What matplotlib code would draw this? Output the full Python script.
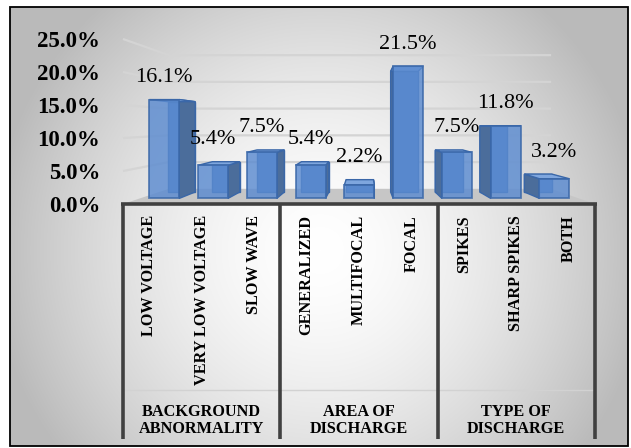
import numpy as np
import matplotlib
matplotlib.use('Agg')
import matplotlib.pyplot as plt
from matplotlib.patches import Polygon, Rectangle

# ---------------- data ----------------
categories = ['LOW VOLTAGE', 'VERY LOW VOLTAGE', 'SLOW WAVE',
              'GENERALIZED', 'MULTIFOCAL', 'FOCAL',
              'SPIKES', 'SHARP SPIKES', 'BOTH']
values = [16.1, 5.4, 7.5, 5.4, 2.2, 21.5, 7.5, 11.8, 3.2]
groups = ['BACKGROUND\nABNORMALITY', 'AREA OF\nDISCHARGE', 'TYPE OF\nDISCHARGE']
group_sizes = [3, 3, 3]
yticks = [0, 5, 10, 15, 20, 25]
ytick_labels = ['0.0%', '5.0%', '10.0%', '15.0%', '20.0%', '25.0%']
value_labels = ['16.1%', '5.4%', '7.5%', '5.4%', '2.2%', '21.5%', '7.5%', '11.8%', '3.2%']

SERIF = 'Liberation Serif'
W, H = 631, 448
fig = plt.figure(figsize=(W / 100, H / 100), dpi=100)

# ---------------- background (gradient chart area + frame) ----------------
bg = fig.add_axes([0, 0, 1, 1])
bg.set_xlim(0, W)
bg.set_ylim(H, 0)
bg.axis('off')
fx0, fx1, fy0, fy1 = 10, 628, 7, 446
yy, xx = np.mgrid[fy0:fy1, fx0:fx1]
r = np.sqrt(((xx - 320) / 330.0) ** 2 + ((yy - 250) / 330.0) ** 2)
shade = 1 - 0.27 * np.clip(r, 0, 1.0) ** 1.6
img = np.dstack([shade, shade, shade])
bg.imshow(img, extent=(fx0, fx1, fy1, fy0), zorder=0, interpolation='bilinear')
bg.add_patch(Rectangle((fx0, fy0), fx1 - fx0, fy1 - fy0, fill=False,
                       ec='black', lw=1.3, zorder=2))

# ---------------- main axes (front plane) ----------------
px_left, px_right = 123, 595
px_y0, px_y25 = 204, 39
ax = fig.add_axes([px_left / W, 1 - px_y0 / H, (px_right - px_left) / W,
                   (px_y0 - px_y25) / H])
n = len(categories)
ax.set_xlim(-0.5, n - 0.5)
ax.set_ylim(0, 25)
ax.patch.set_visible(False)
for s in ax.spines.values():
    s.set_visible(False)
ax.set_xticks([])
ax.set_yticks(yticks)
ax.set_yticklabels(ytick_labels, fontsize=16.5, fontweight='bold', family=SERIF)
ax.tick_params(axis='y', length=0, pad=16.4)

ax_h_px = px_y0 - px_y25

# perspective (vanishing point in data coordinates)
vpx, vpy = 4.096, 12.12
F_BACKWALL = 0.81
F_FRONT, F_BACK = 0.93, 0.85
HALF_W = 0.307


def proj(x, v, f):
    return (vpx + (x - vpx) * f, vpy + (v - vpy) * f)


# floor
xl, xr = -0.5, n - 0.5
floor = [proj(xl, 0, 1), proj(xr, 0, 1), proj(xr, 0, F_BACKWALL), proj(xl, 0, F_BACKWALL)]
ax.add_patch(Polygon(floor, closed=True, fc='#c6c6c6', ec='none', zorder=1, clip_on=False))

# gridlines (left wall + back wall)
for t in yticks[1:]:
    p0 = proj(xl, t, 1)
    p1 = proj(xl, t, F_BACKWALL)
    p2 = proj(xr, t, F_BACKWALL)
    ax.plot([p0[0], p1[0], p2[0]], [p0[1], p1[1], p2[1]], color='#d4d4d4',
            lw=1.6, zorder=1.5, clip_on=False, solid_capstyle='butt')

# bars
C_FRONT = '#5b8bd0'
C_EDGE = '#3a67a8'
C_SIDE = '#4b6d9b'
C_TOP = '#7ea6de'
C_BACK = '#4f7fc2'
for i, v in enumerate(values):
    fl = [proj(i - HALF_W, 0, F_FRONT), proj(i + HALF_W, 0, F_FRONT),
          proj(i + HALF_W, v, F_FRONT), proj(i - HALF_W, v, F_FRONT)]
    bk = [proj(i - HALF_W, 0, F_BACK), proj(i + HALF_W, 0, F_BACK),
          proj(i + HALF_W, v, F_BACK), proj(i - HALF_W, v, F_BACK)]
    z = 3 + 0.01 * i
    ax.add_patch(Polygon(bk, closed=True, fc=C_BACK, ec=C_EDGE, lw=1.0, zorder=z, clip_on=False))
    if i < vpx:
        side = [fl[1], fl[2], bk[2], bk[1]]
    else:
        side = [fl[0], fl[3], bk[3], bk[0]]
    ax.add_patch(Polygon(side, closed=True, fc=C_SIDE, ec=C_EDGE, lw=1.0, zorder=z + 0.001, clip_on=False))
    top = [fl[3], fl[2], bk[2], bk[3]]
    ax.add_patch(Polygon(top, closed=True, fc=C_TOP, ec=C_EDGE, lw=1.0, zorder=z + 0.002, clip_on=False))
    ax.add_patch(Polygon(fl, closed=True, fc=C_FRONT, ec=C_EDGE, lw=1.3, alpha=0.82,
                         zorder=z + 0.003, clip_on=False))
    top_v = max(fl[3][1], bk[3][1])
    ax.annotate(value_labels[i], xy=((fl[0][0] + fl[1][0]) / 2, top_v),
                xytext=(0, 15.8), textcoords='offset points', ha='center', va='center',
                fontsize=16, family=SERIF, color='black', zorder=6, annotation_clip=False)

# category axis line
trans = ax.get_xaxis_transform()
ax.plot([xl - 0.04, xr + 0.04], [0, 0], transform=trans, color='#404040', lw=2.6,
        clip_on=False, zorder=5, solid_capstyle='butt')

# category labels
lab_top = -11 / ax_h_px
for i, c in enumerate(categories):
    ax.text(i, lab_top, c, transform=trans, rotation=90, ha='center', va='top',
            fontsize=11.7, fontweight='bold', family=SERIF, color='black')

# level separator (faint)
sep_y = -(390 - px_y0) / ax_h_px
ax.plot([xl, xr], [sep_y, sep_y], transform=trans, color='#d2d2d2', lw=1.0, clip_on=False)

# group separators and labels
bottom_y = -(439 - px_y0) / ax_h_px
bounds = np.concatenate([[0], np.cumsum(group_sizes)]) - 0.5
for b in bounds:
    ax.plot([b, b], [0, bottom_y], transform=trans, color='#404040', lw=2.6,
            clip_on=False, zorder=5, solid_capstyle='butt')
grp_y = -(420.5 - px_y0) / ax_h_px
for g, lo, hi in zip(groups, bounds[:-1], bounds[1:]):
    ax.text((lo + hi) / 2, grp_y, g, transform=trans, ha='center', va='center',
            fontsize=11.7, fontweight='bold', family=SERIF, linespacing=1.05,
            multialignment='center')

fig.savefig('out.png', dpi=100)
